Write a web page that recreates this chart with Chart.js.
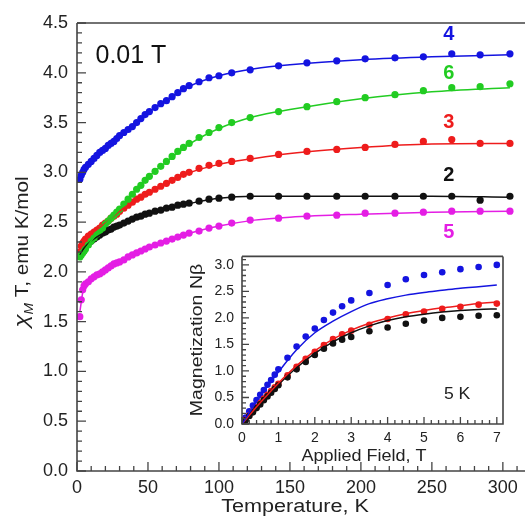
<!DOCTYPE html>
<html>
<head>
<meta charset="utf-8">
<script src="https://cdn.jsdelivr.net/npm/chart.js@4.4.1/dist/chart.umd.min.js"></script>
<style>
  html, body { margin: 0; padding: 0; background: #fff; }
  #wrap { position: relative; width: 529px; height: 521px; overflow: hidden; }
  #main { position: absolute; left: 0; top: 0; }
  #inset { position: absolute; left: 170px; top: 240px; }
</style>
</head>
<body>
<div id="wrap">
  <canvas id="main" width="529" height="521"></canvas>
  <canvas id="inset" width="345" height="240"></canvas>
</div>
<script>
// main plot: chi_M T vs temperature (0.01 T), compounds 2-6
const temps = [2, 3, 4, 5, 6, 8, 10, 12, 14, 16, 18, 20, 22, 24, 26, 28, 30, 33, 36, 39, 42, 45, 48, 51, 55, 59, 63, 67, 71, 75, 79, 86, 93, 100, 109, 122, 142, 162, 183, 203, 224, 244, 264, 284, 305];
const chi4 = [2.93, 2.97, 3.00, 3.03, 3.05, 3.08, 3.11, 3.14, 3.17, 3.20, 3.22, 3.24, 3.27, 3.29, 3.31, 3.34, 3.37, 3.40, 3.43, 3.46, 3.50, 3.54, 3.58, 3.61, 3.65, 3.69, 3.72, 3.76, 3.80, 3.84, 3.87, 3.91, 3.95, 3.97, 4.00, 4.03, 4.07, 4.10, 4.12, 4.14, 4.15, 4.16, 4.19, 4.18, 4.19];
const chi6 = [2.15, 2.17, 2.19, 2.21, 2.23, 2.27, 2.31, 2.34, 2.38, 2.41, 2.44, 2.48, 2.51, 2.54, 2.57, 2.60, 2.63, 2.68, 2.73, 2.78, 2.83, 2.87, 2.92, 2.96, 3.01, 3.06, 3.11, 3.16, 3.21, 3.25, 3.29, 3.35, 3.40, 3.45, 3.50, 3.55, 3.61, 3.66, 3.71, 3.75, 3.78, 3.82, 3.85, 3.86, 3.89];
const chi3 = [2.20, 2.26, 2.29, 2.31, 2.33, 2.36, 2.38, 2.40, 2.42, 2.44, 2.47, 2.49, 2.51, 2.54, 2.56, 2.58, 2.61, 2.64, 2.67, 2.70, 2.73, 2.75, 2.78, 2.80, 2.83, 2.86, 2.89, 2.92, 2.95, 2.98, 3.00, 3.04, 3.07, 3.09, 3.11, 3.14, 3.18, 3.21, 3.23, 3.25, 3.28, 3.31, 3.33, 3.29, 3.29];
const chi2 = [2.17, 2.20, 2.22, 2.24, 2.26, 2.29, 2.31, 2.33, 2.35, 2.37, 2.39, 2.40, 2.42, 2.43, 2.45, 2.46, 2.47, 2.49, 2.51, 2.53, 2.55, 2.56, 2.58, 2.59, 2.61, 2.62, 2.64, 2.65, 2.67, 2.68, 2.69, 2.71, 2.73, 2.74, 2.75, 2.76, 2.76, 2.76, 2.76, 2.76, 2.76, 2.76, 2.76, 2.72, 2.76];
const chi5 = [1.55, 1.72, 1.82, 1.86, 1.88, 1.90, 1.93, 1.95, 1.97, 1.98, 2.00, 2.02, 2.04, 2.06, 2.08, 2.09, 2.10, 2.12, 2.15, 2.17, 2.19, 2.21, 2.23, 2.25, 2.27, 2.29, 2.31, 2.33, 2.35, 2.37, 2.39, 2.41, 2.44, 2.46, 2.49, 2.52, 2.54, 2.56, 2.57, 2.59, 2.59, 2.60, 2.61, 2.61, 2.61];

const fitTemps = [2, 5, 10, 20, 30, 40, 50, 60, 80, 100, 125, 150, 200, 250, 305];
const fit4 = [2.93, 3.03, 3.11, 3.24, 3.36, 3.48, 3.60, 3.70, 3.87, 3.97, 4.04, 4.08, 4.13, 4.16, 4.18];
const fit6 = [2.15, 2.21, 2.31, 2.48, 2.63, 2.80, 2.95, 3.07, 3.29, 3.44, 3.56, 3.63, 3.74, 3.81, 3.85];
const fit3 = [2.22, 2.31, 2.38, 2.49, 2.61, 2.71, 2.79, 2.87, 3.00, 3.08, 3.14, 3.19, 3.25, 3.285, 3.29];
const fit2 = [2.17, 2.24, 2.31, 2.40, 2.47, 2.53, 2.59, 2.63, 2.69, 2.74, 2.76, 2.76, 2.76, 2.76, 2.75];
const fit5 = [1.60, 1.86, 1.93, 2.02, 2.10, 2.18, 2.24, 2.29, 2.39, 2.46, 2.52, 2.55, 2.58, 2.60, 2.61];

const tempTicks = [0, 50, 100, 150, 200, 250, 300];
const chiTicks = [0, 0.5, 1.0, 1.5, 2.0, 2.5, 3.0, 3.5, 4.0, 4.5];

const seriesNames = ['4', '6', '3', '2', '5'];
const labelYs = [4.38, 3.99, 3.50, 2.97, 2.40];
const labelT = 262;

// inset: magnetization at 5 K
const fields = [0, 0.1, 0.2, 0.3, 0.4, 0.5, 0.6, 0.7, 0.8, 0.9, 1.0, 1.25, 1.5, 1.75, 2.0, 2.25, 2.5, 2.75, 3.0, 3.5, 4.0, 4.5, 5.0, 5.5, 6.0, 6.5, 7.0];
const magBlue = [0, 0.12, 0.24, 0.35, 0.45, 0.55, 0.64, 0.74, 0.83, 0.93, 1.03, 1.25, 1.46, 1.65, 1.80, 1.96, 2.10, 2.22, 2.33, 2.47, 2.62, 2.73, 2.81, 2.86, 2.92, 2.96, 3.00];
const magRed = [0, 0.08, 0.16, 0.24, 0.32, 0.40, 0.48, 0.55, 0.62, 0.69, 0.76, 0.92, 1.08, 1.23, 1.36, 1.49, 1.60, 1.69, 1.76, 1.87, 1.98, 2.07, 2.12, 2.17, 2.21, 2.25, 2.27];
const magBlack = [0, 0.07, 0.15, 0.22, 0.30, 0.37, 0.45, 0.52, 0.59, 0.66, 0.73, 0.88, 1.03, 1.17, 1.30, 1.42, 1.52, 1.59, 1.64, 1.75, 1.82, 1.89, 1.95, 2.00, 2.02, 2.04, 2.05];
const fitFields = [0, 0.5, 1, 1.5, 2, 2.5, 3, 3.5, 4, 4.5, 5, 5.5, 6, 6.5, 7];
const magFitBlue = [0, 0.52, 0.98, 1.40, 1.72, 1.94, 2.12, 2.27, 2.36, 2.43, 2.48, 2.52, 2.56, 2.59, 2.62];
const magFitRed = [0, 0.40, 0.77, 1.10, 1.38, 1.60, 1.77, 1.90, 2.00, 2.08, 2.14, 2.19, 2.23, 2.27, 2.30];
const magFitBlack = [0, 0.38, 0.74, 1.06, 1.33, 1.55, 1.72, 1.85, 1.95, 2.02, 2.07, 2.11, 2.14, 2.16, 2.17];

const fieldTicks = [0, 1, 2, 3, 4, 5, 6, 7];
const magTicks = [0, 0.5, 1.0, 1.5, 2.0, 2.5, 3.0];

const FONT = '"Liberation Sans", Arial, Helvetica, sans-serif';
const BLUE = '#1414e0', GREEN = '#22cc22', RED = '#ee1c1c', BLACK = '#111111', MAGENTA = '#e41ee4';
const seriesColors = [BLUE, GREEN, RED, BLACK, MAGENTA];

function pts(xs, ys) { return xs.map((x, i) => ({ x: x, y: ys[i] })); }

function pointSet(xs, ys, color, r) {
  return { data: pts(xs, ys), showLine: false, pointRadius: r, pointBackgroundColor: color, pointBorderWidth: 0, borderColor: color };
}
function lineSet(xs, ys, color) {
  return { data: pts(xs, ys), showLine: true, pointRadius: 0, borderColor: color, borderWidth: 1.5, cubicInterpolationMode: 'monotone', fill: false };
}

function drawText(ctx, txt, x, y, font, color, sx, rot, align) {
  ctx.save();
  ctx.translate(x, y);
  if (rot) ctx.rotate(rot);
  ctx.scale(sx || 1, 1);
  ctx.font = font;
  ctx.fillStyle = color;
  ctx.textAlign = align || 'center';
  ctx.textBaseline = 'middle';
  ctx.fillText(txt, 0, 0);
  ctx.restore();
}

// inward tick marks + frame lines
const axisDecor = {
  id: 'axisDecor',
  beforeDraw(chart, args, o) {
    const a = chart.chartArea, ctx = chart.ctx;
    if (o.whiteBox) {
      ctx.save();
      ctx.fillStyle = '#fff';
      ctx.fillRect(a.left, a.top, a.right - a.left, a.bottom - a.top);
      ctx.restore();
    }
  },
  afterDraw(chart, args, o) {
    const a = chart.chartArea, ctx = chart.ctx;
    const xs = chart.scales.x, ys = chart.scales.y;
    ctx.save();
    ctx.strokeStyle = o.color;
    ctx.lineWidth = 1.3;
    ctx.beginPath();
    for (let i = Math.ceil(xs.min / o.xMinor - 1e-6); i * o.xMinor <= xs.max + 1e-6; i++) {
      const v = i * o.xMinor;
      const major = Math.abs(v / o.xMajor - Math.round(v / o.xMajor)) < 1e-6;
      const p = xs.getPixelForValue(v);
      ctx.moveTo(p, a.bottom);
      ctx.lineTo(p, a.bottom - (major ? o.majorLen : o.minorLen));
    }
    for (let i = Math.ceil(ys.min / o.yMinor - 1e-6); i * o.yMinor <= ys.max + 1e-6; i++) {
      const v = i * o.yMinor;
      const major = Math.abs(v / o.yMajor - Math.round(v / o.yMajor)) < 1e-6;
      const p = ys.getPixelForValue(v);
      ctx.moveTo(a.left, p);
      ctx.lineTo(a.left + (major ? o.majorLen : o.minorLen), p);
    }
    ctx.stroke();
    ctx.lineWidth = o.frameWidth;
    ctx.beginPath();
    ctx.moveTo(a.left, a.top);
    ctx.lineTo(a.left, a.bottom);
    ctx.lineTo(a.right, a.bottom);
    if (o.rightFrame) ctx.lineTo(a.right, a.top);
    ctx.moveTo(a.right, a.top);
    ctx.lineTo(a.left, a.top);
    ctx.stroke();
    ctx.restore();
  }
};

// titles and annotations for the main plot
const mainText = {
  id: 'mainText',
  afterDraw(chart) {
    const ctx = chart.ctx, xs = chart.scales.x, ys = chart.scales.y;
    drawText(ctx, 'Temperature, K', 295, 507, '18px ' + FONT, '#222', 1.2);
    drawText(ctx, '0.01 T', xs.getPixelForValue(38), ys.getPixelForValue(4.17), '25px ' + FONT, '#111', 1);
    seriesNames.forEach((n, i) => {
      drawText(ctx, n, xs.getPixelForValue(labelT), ys.getPixelForValue(labelYs[i]), 'bold 20px ' + FONT, seriesColors[i], 1);
    });
    // y title with subscript M
    ctx.save();
    ctx.translate(22, 252);
    ctx.rotate(-Math.PI / 2);
    ctx.scale(1.15, 1);
    ctx.fillStyle = '#222';
    ctx.textBaseline = 'alphabetic';
    ctx.textAlign = 'left';
    const parts = [['\u03C7', 'italic 21px ' + FONT, 0], ['M', 'italic 12px ' + FONT, 5], [' T, emu K/mol', '18px ' + FONT, 0]];
    let w = 0;
    parts.forEach(p => { ctx.font = p[1]; w += ctx.measureText(p[0]).width; });
    let x = -w / 2;
    parts.forEach(p => { ctx.font = p[1]; ctx.fillText(p[0], x, 6 + p[2]); x += ctx.measureText(p[0]).width; });
    ctx.restore();
  }
};

const insetText = {
  id: 'insetText',
  afterDraw(chart) {
    const ctx = chart.ctx, xs = chart.scales.x, ys = chart.scales.y;
    drawText(ctx, 'Applied Field, T', 194, 216, '17px ' + FONT, '#222', 1.06);
    drawText(ctx, 'Magnetization N\u03B2', 27, 100, '17px ' + FONT, '#222', 1.15, -Math.PI / 2);
    drawText(ctx, '5 K', xs.getPixelForValue(5.91), ys.getPixelForValue(0.56), '16px ' + FONT, '#222', 1.1);
  }
};

function fixedTicks(list) {
  return function (s) { s.ticks = list.map(v => ({ value: v })); };
}

new Chart(document.getElementById('main'), {
  type: 'scatter',
  data: {
    datasets: [
      lineSet(fitTemps, fit4, BLUE),
      lineSet(fitTemps, fit6, GREEN),
      lineSet(fitTemps, fit3, RED),
      lineSet(fitTemps, fit2, BLACK),
      lineSet(fitTemps, fit5, MAGENTA),
      pointSet(temps, chi4, BLUE, 3.6),
      pointSet(temps, chi6, GREEN, 3.6),
      pointSet(temps, chi3, RED, 3.6),
      pointSet(temps, chi2, BLACK, 3.6),
      pointSet(temps, chi5, MAGENTA, 3.6)
    ]
  },
  options: {
    responsive: false,
    animation: false,
    devicePixelRatio: 1,
    events: [],
    layout: { padding: { top: 23, right: 0, left: 0, bottom: 0 } },
    plugins: {
      legend: { display: false },
      tooltip: { enabled: false },
      axisDecor: { xMinor: 10, xMajor: 50, yMinor: 0.1, yMajor: 0.5, majorLen: 9, minorLen: 5, color: '#444', frameWidth: 1.6, rightFrame: false }
    },
    scales: {
      x: {
        type: 'linear', min: 0, max: 315.6,
        grid: { display: false, drawTicks: false }, border: { display: false },
        ticks: { autoSkip: false, maxRotation: 0, padding: 6, color: '#222', font: { size: 18, family: FONT } },
        afterBuildTicks: fixedTicks(tempTicks),
        afterFit: s => { s.height = 50; }
      },
      y: {
        min: 0, max: 4.5,
        grid: { display: false, drawTicks: false }, border: { display: false },
        ticks: { padding: 9, color: '#222', font: { size: 18, family: FONT }, callback: v => v.toFixed(1) },
        afterBuildTicks: fixedTicks(chiTicks),
        afterFit: s => { s.width = 77; }
      }
    }
  },
  plugins: [axisDecor, mainText]
});

new Chart(document.getElementById('inset'), {
  type: 'scatter',
  data: {
    datasets: [
      lineSet(fitFields, magFitBlue, BLUE),
      lineSet(fitFields, magFitRed, RED),
      lineSet(fitFields, magFitBlack, BLACK),
      pointSet(fields, magBlack, BLACK, 3.3),
      pointSet(fields, magRed, RED, 3.3),
      pointSet(fields, magBlue, BLUE, 3.3)
    ]
  },
  options: {
    responsive: false,
    animation: false,
    devicePixelRatio: 1,
    events: [],
    layout: { padding: { top: 14, right: 12, left: 0, bottom: 0 } },
    plugins: {
      legend: { display: false },
      tooltip: { enabled: false },
      axisDecor: { xMinor: 0.2, xMajor: 1, yMinor: 0.1, yMajor: 0.5, majorLen: 7, minorLen: 4, color: '#444', frameWidth: 1.6, rightFrame: true, whiteBox: true }
    },
    scales: {
      x: {
        type: 'linear', min: 0, max: 7.17,
        grid: { display: false, drawTicks: false }, border: { display: false },
        ticks: { autoSkip: false, maxRotation: 0, padding: 6, color: '#222', font: { size: 14, family: FONT } },
        afterBuildTicks: fixedTicks(fieldTicks),
        afterFit: s => { s.height = 56; }
      },
      y: {
        min: 0, max: 3.16,
        grid: { display: false, drawTicks: false }, border: { display: false },
        ticks: { padding: 8, color: '#222', font: { size: 14, family: FONT }, callback: v => v.toFixed(1) },
        afterBuildTicks: fixedTicks(magTicks),
        afterFit: s => { s.width = 72; }
      }
    }
  },
  plugins: [axisDecor, insetText]
});
</script>
</body>
</html>
